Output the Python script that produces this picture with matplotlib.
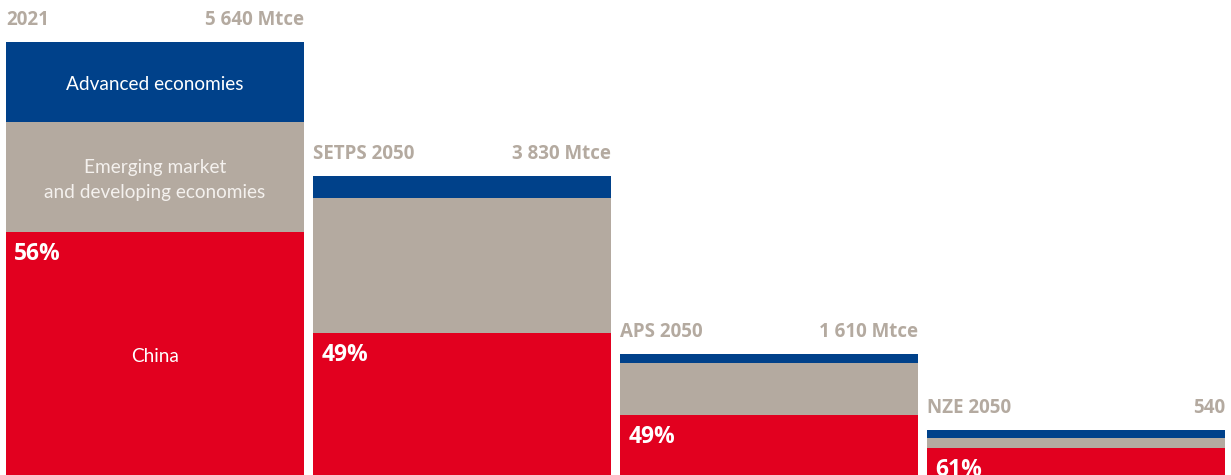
import numpy as np
import matplotlib
matplotlib.use('Agg')
from matplotlib.pylab import plt

# Coal demand by scenario, Mtce, split by region
scenarios = ['2021', 'SETPS 2050', 'APS 2050', 'NZE 2050']
totals = ['5 640 Mtce', '3 830 Mtce', '1 610 Mtce', '540']
china = np.array([3165, 1850, 781, 352])
emde = np.array([1433, 1758, 677, 124])
advanced = np.array([1042, 287, 117, 111])
china_share = ['56%', '49%', '49%', '61%']

BLUE = '#00418A'
GREY = '#B4AAA0'
RED = '#E2001F'
TXT = '#B4AAA0'

fig = plt.figure(figsize=(12.31, 4.75), dpi=100)
ax = fig.add_axes([0, 0, 1, 1])
ax.set_xlim(-0.505, 3.505)
ax.set_ylim(0, 6187)
ax.axis('off')

x = np.arange(len(scenarios))
w = 298 / 307
ax.bar(x, china, w, color=RED)
ax.bar(x, emde, w, bottom=china, color=GREY)
ax.bar(x, advanced, w, bottom=china + emde, color=BLUE)

top = china + emde + advanced
for i in range(len(scenarios)):
    left = x[i] - w / 2
    right = x[i] + w / 2
    ax.annotate(scenarios[i], (left, top[i]), xytext=(0, 12.5), textcoords='offset points',
                ha='left', va='baseline', fontsize=13.5, fontweight='bold', color=TXT,
                family='Open Sans')
    ax.annotate(totals[i], (right, top[i]), xytext=(0, 12.5), textcoords='offset points',
                ha='right', va='baseline', fontsize=13.5, fontweight='bold', color=TXT,
                family='Open Sans')
    ax.annotate(china_share[i], (left, china[i]), xytext=(6, -7), textcoords='offset points',
                ha='left', va='top', fontsize=16.5, fontweight='bold', color='white',
                family='Open Sans')

# region labels on the first bar
lbl = dict(ha='center', va='center', fontsize=13.7, family='Lato',
           textcoords='offset points', xytext=(0, -2))
ax.annotate('Advanced economies', (x[0], china[0] + emde[0] + advanced[0] / 2),
            color='white', **lbl)
ax.annotate('Emerging market\nand developing economies', (x[0], china[0] + emde[0] / 2),
            color='#F4F1EE', linespacing=1.6, **lbl)
ax.annotate('China', (x[0], china[0] / 2), color='white', **lbl)

fig.savefig('out.png', dpi=100)
